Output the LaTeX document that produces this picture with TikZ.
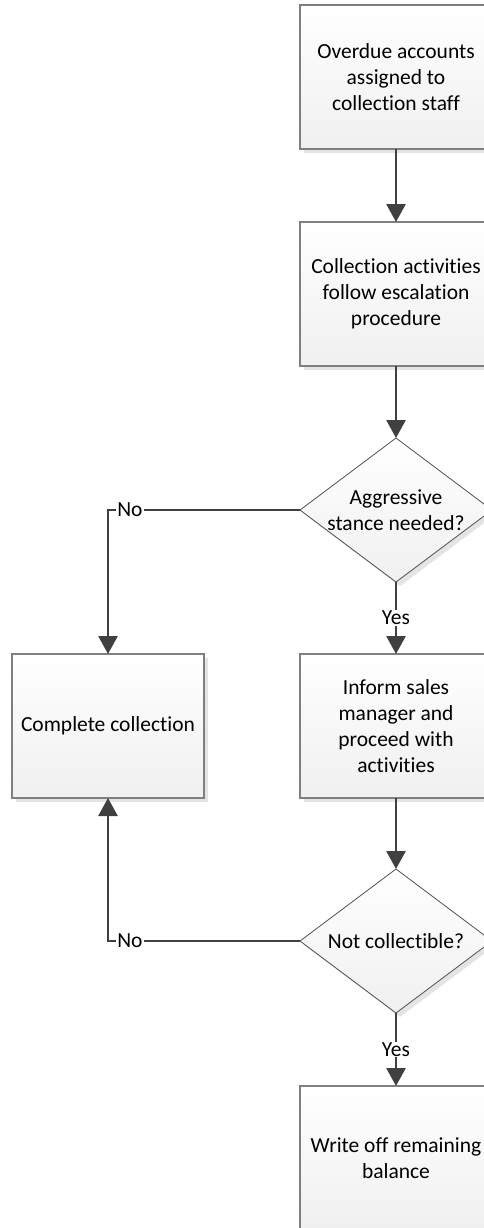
\documentclass[tikz,border=0pt]{standalone}
\usepackage{fontspec}
\setmainfont[Ligatures=NoCommon]{Carlito}
\usetikzlibrary{arrows.meta,shapes.geometric,shadows}
\definecolor{linegray}{HTML}{404040}
\definecolor{boxedge}{HTML}{7F7F7F}
\definecolor{diaedge}{HTML}{505050}
\definecolor{shadowgray}{HTML}{E4E4E4}
\tikzset{
  every node/.style={font=\fontsize{21.5}{26}\selectfont, text=black},
  box/.style={rectangle, draw=boxedge, line width=1.3pt,
    minimum width=192pt, minimum height=144pt, inner sep=0pt, outer sep=0pt,
    top color=white, bottom color=black!6, align=center,
    drop shadow={shadow xshift=4pt, shadow yshift=-4pt, fill=shadowgray, opacity=1}},
  decision/.style={diamond, draw=diaedge, line width=0.8pt,
    minimum width=192pt, minimum height=144pt, inner sep=0pt, outer sep=0pt,
    top color=white, bottom color=black!6,
    drop shadow={shadow xshift=4pt, shadow yshift=-4pt, fill=shadowgray, opacity=1}},
  dtext/.style={align=center, inner sep=0pt},
  conn/.style={draw=linegray, line width=2.8pt,
    -{Triangle[length=18pt,width=19pt]}},
  lbl/.style={fill=white, inner sep=1pt}
}
\begin{document}
\begin{tikzpicture}[x=1pt,y=-1pt]
  \useasboundingbox (0,0) rectangle (484,1228);
  \clip (0,0) rectangle (484,1228);

  % process steps in the main column
  \node[box] (b1) at (396,77) {Overdue accounts\\assigned to\\collection staff};
  \node[box] (b2) at (396,294) {Collection activities\\follow escalation\\procedure};
  \node[decision] (d1) at (396,510) {};
  \node[dtext] at (d1) {Aggressive\\stance needed?};
  \node[box] (b3) at (396,726) {Inform sales\\manager and\\proceed with\\activities};
  \node[decision] (d2) at (396,941) {};
  \node[dtext] at (d2) {Not collectible?};
  \node[box] (b5) at (396,1158) {Write off remaining\\balance};

  % side step
  \node[box] (lc) at (108,726) {Complete collection};

  % connectors
  \draw[conn] (b1) -- (b2);
  \draw[conn] (b2) -- (d1);
  \draw[conn] (d1.south) -- node[lbl] {Yes} (b3.north);
  \draw[conn] (d1.west) -| node[lbl, pos=0.443] {No} (lc.north);
  \draw[conn] (b3) -- (d2);
  \draw[conn] (d2.south) -- node[lbl] {Yes} (b5.north);
  \draw[conn] (d2.west) -| node[lbl, pos=0.443] {No} (lc.south);
\end{tikzpicture}
\end{document}
